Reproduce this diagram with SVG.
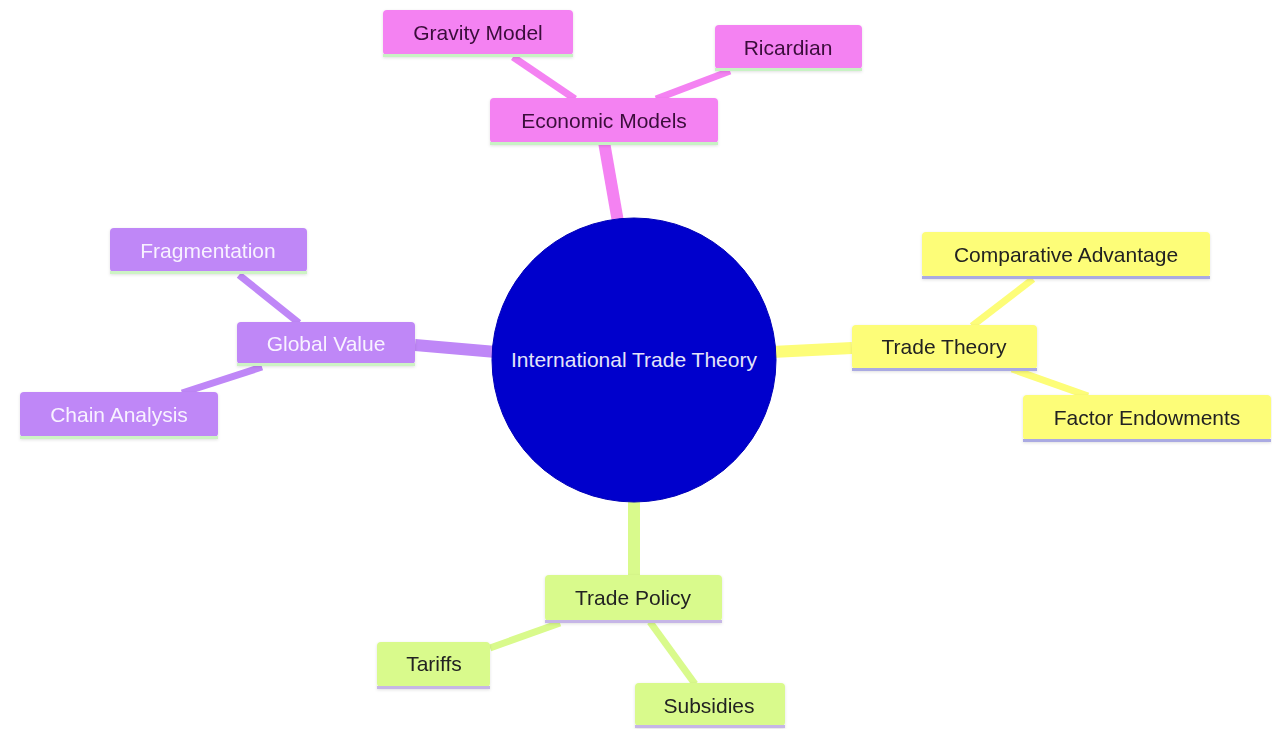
<svg xmlns="http://www.w3.org/2000/svg" width="1272" height="729" viewBox="0 0 1272 729">
<defs>
<filter id="sh" x="-10%" y="-20%" width="120%" height="150%">
<feDropShadow dx="0" dy="1" stdDeviation="1.5" flood-color="#000" flood-opacity="0.12"/>
</filter>
<style>
.t{font-family:"Liberation Sans",Arial,sans-serif;font-size:21px;text-anchor:middle;dominant-baseline:central}
.pk rect.b{fill:#f482f2}.pk .ln{stroke:#c8f2c4}.pk text{fill:#3a0e3a}
.ye rect.b{fill:#fdfd78}.ye .ln{stroke:#aaaae2}.ye text{fill:#222}
.pu rect.b{fill:#bf87f7}.pu .ln{stroke:#cdf3c4}.pu text{fill:#f8f2ff}
.gr rect.b{fill:#d9fa8c}.gr .ln{stroke:#c6b6e6}.gr text{fill:#222}
.ln{stroke-width:3}
</style>
</defs>
<rect width="1272" height="729" fill="#fff"/>
<g id="connectors" stroke-linecap="butt" fill="none">
<line x1="618" y1="222" x2="604" y2="142" stroke="#f482f2" stroke-width="12"/>
<line x1="772" y1="352" x2="852" y2="348" stroke="#fdfd78" stroke-width="12"/>
<line x1="496" y1="352" x2="415" y2="345" stroke="#bf87f7" stroke-width="12"/>
<line x1="634" y1="498" x2="634" y2="576" stroke="#d9fa8c" stroke-width="12"/>
<line x1="513" y1="57" x2="575" y2="99" stroke="#f482f2" stroke-width="7"/>
<line x1="730" y1="71" x2="656" y2="99" stroke="#f482f2" stroke-width="7"/>
<line x1="1033" y1="279" x2="972" y2="326" stroke="#fdfd78" stroke-width="7"/>
<line x1="1012" y1="369" x2="1088" y2="396" stroke="#fdfd78" stroke-width="7"/>
<line x1="239" y1="275" x2="299" y2="323" stroke="#bf87f7" stroke-width="7"/>
<line x1="262" y1="367" x2="182" y2="393" stroke="#bf87f7" stroke-width="7"/>
<line x1="560" y1="623" x2="490" y2="648" stroke="#d9fa8c" stroke-width="7"/>
<line x1="650" y1="622" x2="695" y2="684" stroke="#d9fa8c" stroke-width="7"/>
</g>
<g id="root">
<circle cx="634" cy="360" r="142" fill="#0000cc" stroke="#0000b8" stroke-width="1"/>
<text class="t" x="634" y="359" fill="#e4e4f8">International Trade Theory</text>
</g>
<g id="economic-models" class="pk" filter="url(#sh)">
<rect class="b" x="490" y="98" width="228" height="45" rx="4"/>
<line class="ln" x1="490" y1="143.5" x2="718" y2="143.5"/>
<text class="t" x="604" y="120">Economic Models</text>
</g>
<g id="gravity-model" class="pk" filter="url(#sh)">
<rect class="b" x="383" y="10" width="190" height="45" rx="4"/>
<line class="ln" x1="383" y1="55.5" x2="573" y2="55.5"/>
<text class="t" x="478" y="32">Gravity Model</text>
</g>
<g id="ricardian" class="pk" filter="url(#sh)">
<rect class="b" x="715" y="25" width="147" height="44" rx="4"/>
<line class="ln" x1="715" y1="69.5" x2="862" y2="69.5"/>
<text class="t" x="788" y="47">Ricardian</text>
</g>
<g id="trade-theory" class="ye" filter="url(#sh)">
<rect class="b" x="852" y="325" width="185" height="44" rx="4"/>
<line class="ln" x1="852" y1="369.5" x2="1037" y2="369.5"/>
<text class="t" x="944" y="346">Trade Theory</text>
</g>
<g id="comparative-advantage" class="ye" filter="url(#sh)">
<rect class="b" x="922" y="232" width="288" height="45" rx="4"/>
<line class="ln" x1="922" y1="277.5" x2="1210" y2="277.5"/>
<text class="t" x="1066" y="254">Comparative Advantage</text>
</g>
<g id="factor-endowments" class="ye" filter="url(#sh)">
<rect class="b" x="1023" y="395" width="248" height="45" rx="4"/>
<line class="ln" x1="1023" y1="440.5" x2="1271" y2="440.5"/>
<text class="t" x="1147" y="417">Factor Endowments</text>
</g>
<g id="global-value" class="pu" filter="url(#sh)">
<rect class="b" x="237" y="322" width="178" height="42" rx="4"/>
<line class="ln" x1="237" y1="364.5" x2="415" y2="364.5"/>
<text class="t" x="326" y="343">Global Value</text>
</g>
<g id="fragmentation" class="pu" filter="url(#sh)">
<rect class="b" x="110" y="228" width="197" height="44" rx="4"/>
<line class="ln" x1="110" y1="272.5" x2="307" y2="272.5"/>
<text class="t" x="208" y="250">Fragmentation</text>
</g>
<g id="chain-analysis" class="pu" filter="url(#sh)">
<rect class="b" x="20" y="392" width="198" height="45" rx="4"/>
<line class="ln" x1="20" y1="437.5" x2="218" y2="437.5"/>
<text class="t" x="119" y="414">Chain Analysis</text>
</g>
<g id="trade-policy" class="gr" filter="url(#sh)">
<rect class="b" x="545" y="575" width="177" height="46" rx="4"/>
<line class="ln" x1="545" y1="621.5" x2="722" y2="621.5"/>
<text class="t" x="633" y="597">Trade Policy</text>
</g>
<g id="tariffs" class="gr" filter="url(#sh)">
<rect class="b" x="377" y="642" width="113" height="45" rx="4"/>
<line class="ln" x1="377" y1="687.5" x2="490" y2="687.5"/>
<text class="t" x="434" y="663">Tariffs</text>
</g>
<g id="subsidies" class="gr" filter="url(#sh)">
<rect class="b" x="635" y="683" width="150" height="43" rx="4"/>
<line class="ln" x1="635" y1="726.5" x2="785" y2="726.5"/>
<text class="t" x="709" y="705">Subsidies</text>
</g>
</svg>
